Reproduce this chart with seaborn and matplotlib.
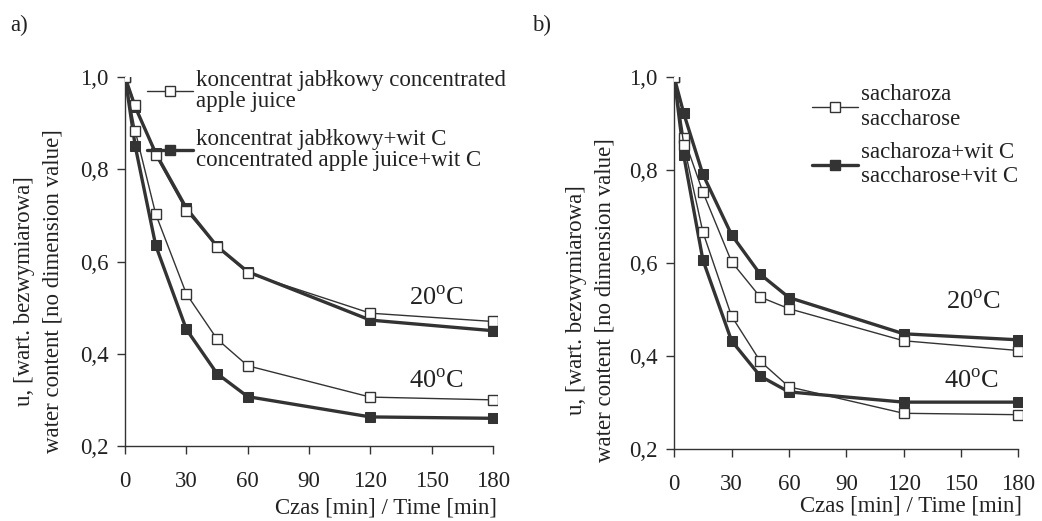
import numpy as np
import pandas as pd
import seaborn as sns
import matplotlib.pyplot as plt
from matplotlib.lines import Line2D

## Data
time_min = [0, 5, 15, 30, 45, 60, 120, 180]

# a) concentrated apple juice
apple_20 = [1.0, 0.94, 0.830, 0.710, 0.632, 0.575, 0.488, 0.470]
apple_vitc_20 = [1.0, 0.935, 0.835, 0.716, 0.633, 0.578, 0.473, 0.450]
apple_40 = [1.0, 0.883, 0.703, 0.530, 0.432, 0.374, 0.306, 0.300]
apple_vitc_40 = [1.0, 0.850, 0.635, 0.453, 0.357, 0.307, 0.263, 0.260]

# b) saccharose
sach_20 = [1.0, 0.870, 0.753, 0.603, 0.527, 0.502, 0.433, 0.412]
sach_vitc_20 = [1.0, 0.922, 0.791, 0.661, 0.576, 0.526, 0.448, 0.435]
sach_40 = [1.0, 0.855, 0.667, 0.486, 0.389, 0.334, 0.277, 0.274]
sach_vitc_40 = [1.0, 0.832, 0.607, 0.433, 0.357, 0.323, 0.301, 0.301]

y_ticks = [0.2, 0.4, 0.6, 0.8, 1.0]
y_tick_labels = ["0,2", "0,4", "0,6", "0,8", "1,0"]
x_ticks = [0, 30, 60, 90, 120, 150, 180]

legend_a = ["koncentrat jabłkowy concentrated\napple juice",
            "koncentrat jabłkowy+wit C\nconcentrated apple juice+wit C"]
legend_b = ["sacharoza\nsaccharose",
            "sacharoza+wit C\nsaccharose+vit C"]

ylabel = "u, [wart. bezwymiarowa]\nwater content [no dimension value]"
xlabel = "Czas [min] / Time [min]"

sns.set_theme(style="ticks")
plt.rcParams['font.family'] = ['Liberation Serif', 'DejaVu Serif']
plt.rcParams['mathtext.fontset'] = 'custom'
plt.rcParams['mathtext.rm'] = 'Liberation Serif'

DARK = "#333333"
TXT = "#222222"
FS = 16.5


def make_df(plain_20, vitc_20, plain_40, vitc_40):
    rows = []
    for name, vals, temp in [("plain", plain_20, "20"), ("vitc", vitc_20, "20"),
                             ("plain", plain_40, "40"), ("vitc", vitc_40, "40")]:
        for t, v in zip(time_min, vals):
            rows.append({"time": t, "u": v, "series": name, "temp": temp})
    return pd.DataFrame(rows)


def draw_panel(ax, df, label_xy, xpad):
    for (name, temp), sub in df.groupby(["series", "temp"]):
        if name == "plain":
            kw = dict(lw=1.0, marker="s", markersize=6.5, markerfacecolor="white",
                      markeredgecolor=DARK, markeredgewidth=1.0, zorder=4)
        else:
            kw = dict(lw=2.4, marker="s", markersize=6.5, markerfacecolor=DARK,
                      markeredgecolor=DARK, zorder=3)
        sns.lineplot(data=sub, x="time", y="u", ax=ax, color=DARK,
                     estimator=None, legend=False, **kw)
    ax.set_xlim(0, 182)
    ax.set_ylim(0.2, 1.0)
    ax.set_xticks(x_ticks)
    ax.set_yticks(y_ticks)
    ax.set_yticklabels(y_tick_labels)
    ax.tick_params(axis="both", direction="out", length=6, width=1.0,
                   colors=DARK, labelsize=FS, labelcolor=TXT, pad=6)
    ax.tick_params(axis="x", pad=12)
    for s in ["top", "right"]:
        ax.spines[s].set_visible(False)
    for s in ["left", "bottom"]:
        ax.spines[s].set_color(DARK)
        ax.spines[s].set_linewidth(1.0)
    ax.spines["bottom"].set_bounds(0, 180)
    ax.set_xlabel(xlabel, fontsize=FS, loc="right", color=TXT, labelpad=xpad)
    ax.set_ylabel(ylabel, fontsize=FS, color=TXT, linespacing=1.45)
    ax.yaxis.set_label_coords(*label_xy)


def panel_legend(ax, labels, loc, spacing, linesp):
    handles = [
        Line2D([], [], color=DARK, lw=1.0, marker="s", markersize=6.5,
               markerfacecolor="white", markeredgecolor=DARK),
        Line2D([], [], color=DARK, lw=2.4, marker="s", markersize=6.5,
               markerfacecolor=DARK, markeredgecolor=DARK),
    ]
    leg = ax.legend(handles, labels, loc="upper left", bbox_to_anchor=loc,
                    frameon=False, fontsize=FS, handlelength=2.0, handletextpad=0.15,
                    labelspacing=spacing, borderaxespad=0, labelcolor=TXT)
    for t in leg.get_texts():
        t.set_linespacing(linesp)


fig = plt.figure(figsize=(10.42, 5.21), dpi=100)
ax_a = fig.add_axes([0.12, 0.144, 0.357, 0.708])
ax_b = fig.add_axes([0.647, 0.138, 0.334, 0.714])

draw_panel(ax_a, make_df(apple_20, apple_vitc_20, apple_40, apple_vitc_40),
           (-0.165, 0.42), 4)
draw_panel(ax_b, make_df(sach_20, sach_vitc_20, sach_40, sach_vitc_40),
           (-0.17, 0.40), 0)

panel_legend(ax_a, legend_a, (0.035, 1.045), 0.7, 1.05)
panel_legend(ax_b, legend_b, (0.37, 1.005), 0.55, 1.2)

temp_label = dict(fontsize=19, color=TXT, ha="left", va="center")
ax_a.text(139, 0.52, "20$^{\\mathrm{o}}$C", **temp_label)
ax_a.text(139, 0.34, "40$^{\\mathrm{o}}$C", **temp_label)
ax_b.text(142, 0.515, "20$^{\\mathrm{o}}$C", **temp_label)
ax_b.text(141, 0.345, "40$^{\\mathrm{o}}$C", **temp_label)

fig.text(0.01, 0.952, "a)", fontsize=FS, color=TXT, va="center")
fig.text(0.511, 0.952, "b)", fontsize=FS, color=TXT, va="center")

fig.savefig("out.png", dpi=100, facecolor="white")
